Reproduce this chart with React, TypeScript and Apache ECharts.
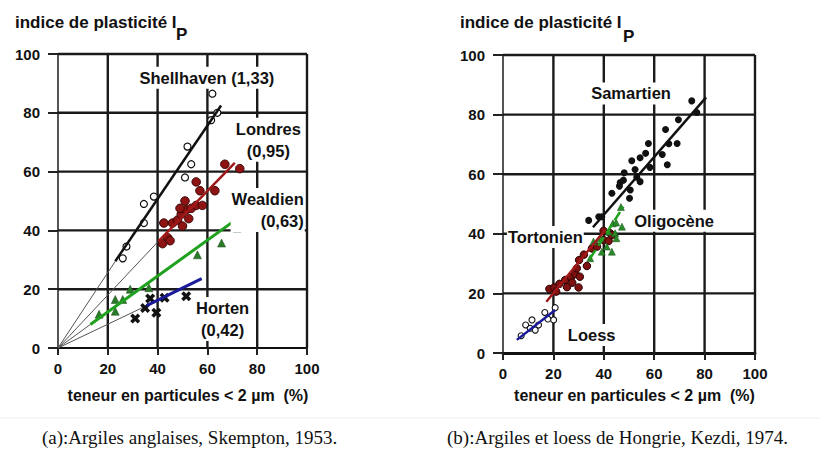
import React, { useEffect, useRef } from "react";
import * as echarts from "echarts";

// ---------- Data: (a) Argiles anglaises, Skempton 1953 ----------
const shellhavenPts = [[26, 30.5], [27.5, 34.5], [34.5, 42.5], [34.5, 49], [38.5, 51.5], [51, 58], [53.5, 62.5], [52, 68.5], [61.5, 77.5], [64, 80], [62, 86.5]];
const shellhavenFit = [[23, 29.5], [65.5, 82.5]];
const londresPts = [[42, 35.5], [44, 37.5], [45, 36.5], [42.5, 42.5], [46, 42.5], [48, 43.5], [50, 41.5], [49.5, 45.5], [52.5, 44], [51.5, 47], [49, 47.5], [53.5, 47.5], [55.5, 48.5], [58, 48.5], [51, 50], [57, 53.5], [63, 53.5], [55.5, 56.5], [67, 62.5], [73, 61]];
const londresFit = [[40.3, 36.3], [71, 63]];
const wealdienPts = [[16.5, 11.5], [23, 12.5], [23, 16.5], [26, 16.5], [29, 20], [36.5, 20.5], [56, 31.7], [65.7, 35.7], [72, 40.8]];
const wealdienFit = [[13, 8], [73, 44.6]];
const hortenPts = [[31, 10], [35, 13.6], [37, 16.8], [39.5, 12], [42.8, 17.1], [51.5, 17.6]];
const hortenFit = [[35.6, 14.4], [57.7, 23.6]];

// ---------- Data: (b) Argiles et loess de Hongrie, Kezdi 1974 ----------
const samartienPts = [[34, 44.5], [38, 45.7], [39.2, 45.7], [43.2, 53.6], [46.2, 56], [46.5, 57.2], [47.8, 58], [48.1, 60.5], [50.2, 51.9], [50.5, 54.7], [51.1, 64.5], [52.4, 61.6], [53.1, 59], [54.4, 57.5], [54.4, 65.5], [56.6, 67], [57.7, 70.3], [58.3, 62.3], [63.2, 66.6], [65.2, 63.2], [65.8, 70.2], [69.1, 70.3], [64.5, 75], [69.6, 78.3], [74.9, 84.6], [76.9, 80.7]];
const samartienFit = [[35.7, 42.2], [80.6, 85.8]];
const tortonienPts = [[18.4, 21.5], [20.3, 22], [21.1, 20.6], [22.4, 23.2], [24.7, 24.5], [25.4, 22.1], [27, 25.4], [27.5, 23.6], [28.7, 26.5], [29.3, 28.4], [30.2, 31.2], [30.5, 25.6], [30, 22], [32.1, 33], [33.3, 29.2], [35.3, 35.1], [37.3, 35.7], [39.9, 37.9], [39.9, 41], [42.5, 40.2], [41.9, 37.6], [43.2, 39.6]];
const tortonienFit = [[17.2, 17.2], [40.5, 41.3]];
const oligocenePts = [[34.6, 31.8], [35.9, 37.4], [38.6, 38.5], [39.2, 34], [41.2, 35.7], [41.9, 40.7], [43.2, 34], [43.6, 43.5], [44.5, 40.2], [45, 38.5], [44.9, 43.8], [47.2, 42.4], [46.8, 49]];
const oligoceneFit = [[34.6, 31.8], [47.8, 49.1]];
const loessPts = [[7.2, 5.8], [9, 9.4], [10.8, 8.3], [11.5, 11.1], [12.8, 7.7], [14.1, 9.4], [16.6, 13.6], [17.8, 11.4], [20.1, 11.1], [20.7, 15.2]];
const loessFit = [[5.5, 4.4], [20.7, 14.4]];

// ---------- Axes ----------
const axisMin = 0;
const axisMax = 100;
const gridTicks = [20, 40, 60, 80, 100];

// ---------- Text ----------
const yTitle = "indice de plasticité I";
const ySub = "P";
const xTitle = "teneur en particules < 2 µm  (%)";
const captionA = "(a):Argiles anglaises, Skempton, 1953.";
const captionB = "(b):Argiles et loess de Hongrie, Kezdi, 1974.";
const labelsA = [
  { name: "Shellhaven (1,33)", at: [59.8, 91.9], align: "center" },
  { name: "Londres\n(0,95)", at: [84.5, 70.8], align: "center" },
  { name: "Wealdien\n(0,63)", at: [99.3, 46.9], align: "right" },
  { name: "Horten\n(0,42)", at: [66.1, 9.9], align: "center" },
];
const labelsB = [
  { name: "Samartien", at: [50.8, 87.1], align: "center" },
  { name: "Oligocène", at: [67.9, 44.4], align: "center" },
  { name: "Tortonien", at: [16.8, 38.9], align: "center" },
  { name: "Loess", at: [35.2, 6], align: "center" },
];

const FONT = "'Liberation Sans', Arial, sans-serif";
const SERIF = "'Liberation Serif', 'Times New Roman', serif";
const X_SYMBOL = "path://M0,2.5L2.5,0L5,2.5L7.5,0L10,2.5L7.5,5L10,7.5L7.5,10L5,7.5L2.5,10L0,7.5L2.5,5Z";

function xAxisCfg(gi: number, gap: number, axisW: number) {
  return {
    type: "value", gridIndex: gi, min: axisMin, max: axisMax, interval: 20,
    axisLine: { show: true, onZero: false, lineStyle: { color: "#111", width: axisW, opacity: 1 } },
    axisTick: { show: true, length: 7, lineStyle: { color: "#222", width: 2, opacity: 1 } },
    axisLabel: { margin: 13, fontSize: 15, fontWeight: "bold", color: "#111", fontFamily: FONT },
    splitLine: { show: false },
    name: xTitle, nameLocation: "middle", nameGap: gap,
    nameTextStyle: { fontSize: 16, fontWeight: "bold", color: "#111", fontFamily: FONT, padding: [0, 0, 0, 11] },
  };
}
function yAxisCfg(gi: number) {
  return {
    type: "value", gridIndex: gi, min: axisMin, max: axisMax, interval: 20,
    axisLine: { show: true, onZero: false, lineStyle: { color: "#555", width: 2, opacity: 1 } },
    axisTick: { show: true, length: 10, lineStyle: { color: "#222", width: 2, opacity: 1 } },
    axisLabel: { margin: 18, fontSize: 15, fontWeight: "bold", color: "#111", fontFamily: FONT },
    splitLine: { show: false },
  };
}
function gridLines(gi: number) {
  const out: any[] = [];
  gridTicks.forEach((t) => {
    out.push({
      type: "line", xAxisIndex: gi, yAxisIndex: gi, symbol: "none", z: 1, silent: true, clip: false,
      data: [[t, axisMin], [t, axisMax]], lineStyle: { color: "#1a1a1a", width: 2.4, opacity: 1 },
    });
    out.push({
      type: "line", xAxisIndex: gi, yAxisIndex: gi, symbol: "none", z: 1, silent: true, clip: false,
      data: [[axisMin, t], [axisMax, t]], lineStyle: { color: "#1a1a1a", width: 2.4, opacity: 1 },
    });
  });
  return out;
}
function fit(gi: number, data: number[][], color: string, width = 2.5, type = "solid") {
  return {
    type: "line", xAxisIndex: gi, yAxisIndex: gi, data, symbol: "none", z: 4,
    lineStyle: { color, width, type }, silent: true,
  };
}
function pts(gi: number, data: number[][], symbol: string, size: number, color: string, border: string, bw = 1) {
  return {
    type: "scatter", xAxisIndex: gi, yAxisIndex: gi, data, symbol, symbolSize: size, z: 3,
    itemStyle: { color, borderColor: border, borderWidth: bw, opacity: 1 },
  };
}
function labels(gi: number, list: { name: string; at: number[]; align: string }[]) {
  return {
    type: "scatter", xAxisIndex: gi, yAxisIndex: gi, symbolSize: 1, z: 7, silent: true,
    itemStyle: { color: "rgba(0,0,0,0)", opacity: 1 },
    data: list.map((l) => ({
      value: l.at,
      label: {
        show: true,
        formatter: l.name,
        position: l.align === "right" ? "left" : "inside",
        distance: 0,
        align: l.align,
        verticalAlign: "middle",
        fontSize: 16.5, fontWeight: "bold", color: "#111", fontFamily: FONT, opacity: 1,
        textBorderWidth: 0, textBorderColor: "transparent",
        lineHeight: 22, backgroundColor: "#fff", padding: [0, 1],
      },
    })),
  };
}

export default function App() {
  const ref = useRef<HTMLDivElement>(null);
  useEffect(() => {
    if (!ref.current) return;
    const chart = echarts.init(ref.current, undefined, { renderer: "svg" });
    const origin = [0, 0];
    const thin = (gi: number, end: number[]) => ({
      type: "line", xAxisIndex: gi, yAxisIndex: gi, data: [origin, end], symbol: "none", z: 2, silent: true,
      lineStyle: { color: "#555", width: 1, opacity: 1 },
    });
    const titleStyle = { fontSize: 17, fontWeight: "bold", color: "#111", fontFamily: FONT };
    const capStyle = { fontSize: 19, fontWeight: "normal", color: "#111", fontFamily: SERIF };
    chart.setOption({
      animation: false,
      backgroundColor: "#fff",
      title: [
        { text: yTitle, left: 15, top: 14, padding: 0, textStyle: titleStyle },
        { text: ySub, left: 176, top: 26, padding: 0, textStyle: titleStyle },
        { text: yTitle, left: 460, top: 14, padding: 0, textStyle: titleStyle },
        { text: ySub, left: 623, top: 28, padding: 0, textStyle: titleStyle },
        { text: captionA, left: 42, top: 428, padding: 0, textStyle: capStyle },
        { text: captionB, left: 447, top: 428, padding: 0, textStyle: capStyle },
      ],
      graphic: [
        { type: "line", shape: { x1: 0, y1: 418, x2: 821, y2: 418 }, style: { stroke: "#eeeeee", lineWidth: 1 } },
      ],
      grid: [
        { left: 58, top: 54, width: 249, height: 294 },
        { left: 503, top: 55, width: 252, height: 298 },
      ],
      xAxis: [xAxisCfg(0, 39, 2), xAxisCfg(1, 34, 3)],
      yAxis: [yAxisCfg(0), yAxisCfg(1)],
      series: [
        ...gridLines(0),
        ...gridLines(1),
        thin(0, shellhavenFit[0]),
        thin(0, londresFit[0]),
        thin(0, wealdienFit[0]),
        thin(0, hortenFit[0]),
        pts(0, shellhavenPts, "circle", 7, "#fff", "#111", 1.2),
        pts(0, londresPts, "circle", 8.5, "#8e1414", "#3a0505", 1),
        pts(0, wealdienPts, "triangle", 8, "#2a7a2a", "#1a4a1a", 0.5),
        pts(0, hortenPts, X_SYMBOL, 10, "#111", "#111", 0),
        fit(0, shellhavenFit, "#111"),
        fit(0, londresFit, "#a01818"),
        fit(0, wealdienFit, "#1fa01f", 3),
        fit(0, hortenFit, "#1a1a9a", 3),
        labels(0, labelsA),

        pts(1, samartienPts, "circle", 7, "#111", "#111", 0),
        pts(1, tortonienPts, "circle", 7.5, "#7e1010", "#2a0303", 1),
        pts(1, oligocenePts, "triangle", 7, "#2a8a2a", "#145014", 0.5),
        pts(1, loessPts, "circle", 6, "#fff", "#111", 1.1),
        fit(1, samartienFit, "#111", 2.5),
        fit(1, tortonienFit, "#a01818", 2.5),
        fit(1, oligoceneFit, "#1fa01f", 2.5, "dashed"),
        fit(1, loessFit, "#1a1a9a", 2.5),
        labels(1, labelsB),
      ],
    });
    return () => chart.dispose();
  }, []);
  return <div ref={ref} style={{ position: "absolute", left: 0, top: 0, width: 821, height: 459 }} />;
}
